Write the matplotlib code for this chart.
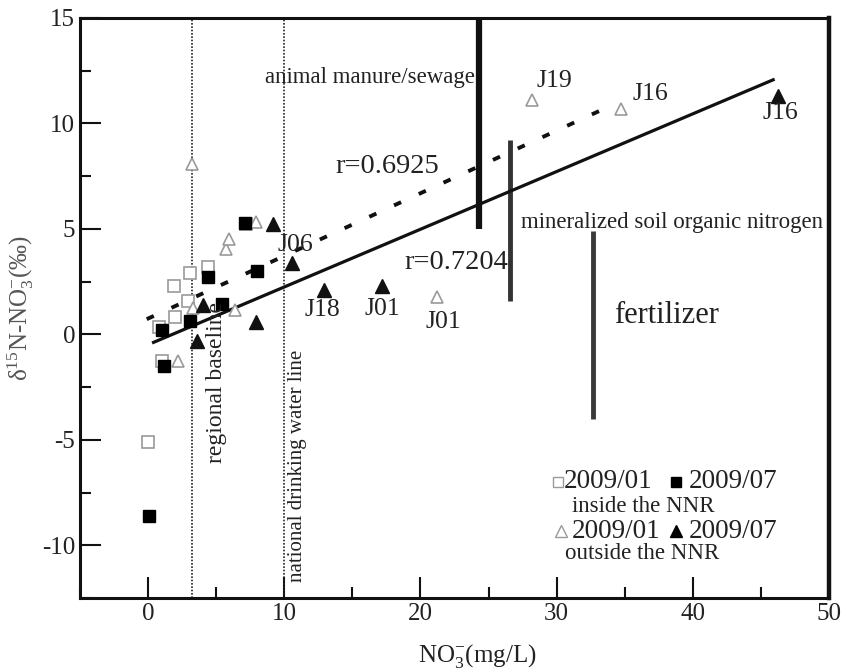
import matplotlib
matplotlib.use("Agg")
import matplotlib.pyplot as plt
from matplotlib.ticker import MultipleLocator

plt.rcParams["font.family"] = ["Liberation Serif", "DejaVu Serif"]
plt.rcParams["mathtext.fontset"] = "custom"
plt.rcParams["mathtext.rm"] = "Liberation Serif"
plt.rcParams["mathtext.it"] = "Liberation Serif:italic"
plt.rcParams["axes.unicode_minus"] = False

# 2009/01 inside the NNR (open squares)
in01_x = [0.0, 0.8, 1.0, 2.0, 1.9, 2.9, 3.1, 4.4, 7.2]
in01_y = [-5.1, 0.33, -1.24, 0.8, 2.3, 1.6, 2.9, 3.2, 5.25]
# 2009/07 inside the NNR (filled squares)
in07_x = [0.1, 1.0, 1.2, 3.1, 4.4, 5.4, 8.0, 7.1]
in07_y = [-8.6, 0.19, -1.48, 0.62, 2.7, 1.45, 3.0, 5.3]
# 2009/01 outside the NNR (open triangles)
out01_x = [2.2, 3.2, 3.3, 5.7, 5.96, 6.4, 7.9, 21.2, 28.2, 34.7]
out01_y = [-1.24, 8.06, 1.24, 4.06, 4.5, 1.15, 5.35, 1.77, 11.1, 10.7]
# 2009/07 outside the NNR (filled triangles)
out07_x = [3.6, 4.0, 7.9, 9.2, 10.6, 12.9, 17.2, 46.25]
out07_y = [-0.33, 1.38, 0.57, 5.25, 3.4, 2.1, 2.3, 11.3]

# trend lines (end points)
fit01_x = [-0.1, 33.5]
fit01_y = [0.72, 10.7]
fit07_x = [0.4, 45.9]
fit07_y = [-0.38, 12.07]

# reference lines
baseline_x = 3.2
drinking_x = 10.0

# source ranges (vertical bars)
src_x = [24.3, 26.6, 32.7]
src_lo = [5.0, 1.6, -4.0]
src_hi = [15.0, 9.2, 4.9]
src_col = ["#111111", "#333333", "#3a3a3a"]
src_lw = [4.5, 3.5, 3.5]

# sample labels
lab_txt = ["J19", "J16", "J16", "J06", "J18", "J01", "J01"]
lab_x = [29.85, 36.9, 46.4, 10.8, 12.8, 17.2, 21.7]
lab_y = [12.0, 11.4, 10.5, 4.25, 1.15, 1.2, 0.57]

fig = plt.figure(figsize=(8.46, 6.68), dpi=100)
ax = fig.add_axes([80 / 846, 70 / 668, 749 / 846, 580 / 668])

gray = "#9a9a9a"
ax.axvline(baseline_x, color="#222222", lw=1.2, ls=(0, (1, 1)))
ax.axvline(drinking_x, color="#222222", lw=1.2, ls=(0, (1, 1)))

for x, lo, hi, c, lw in zip(src_x, src_lo, src_hi, src_col, src_lw):
    ax.plot([x, x], [lo, hi], color=c, lw=lw, solid_capstyle="butt")

ax.plot(fit01_x, fit01_y, color="#111111", lw=2.8, ls=(0, (2.0, 5.0)))
ax.plot(fit07_x, fit07_y, color="#111111", lw=2.3)

ax.plot(in01_x, in01_y, ls="none", marker="s", ms=8, mfc="white", mec=gray, mew=1.2)
ax.plot(out01_x, out01_y, ls="none", marker="^", ms=9, mfc="white", mec=gray, mew=1.2)
ax.plot(in07_x, in07_y, ls="none", marker="s", ms=8.5, color="black")
ax.plot(out07_x, out07_y, ls="none", marker="^", ms=9.5, color="#111111")

txtc = "#222222"
for t, x, y in zip(lab_txt, lab_x, lab_y):
    ax.text(x, y, t, fontsize=18.5, ha="center", va="center", color=txtc)

ax.text(16.3, 12.17, "animal manure/sewage", fontsize=16.5, ha="center", va="center", color=txtc)
ax.text(38.5, 5.3, "mineralized soil organic nitrogen", fontsize=16.5, ha="center", va="center", color=txtc)
ax.text(38.1, 0.9, "fertilizer", fontsize=22, ha="center", va="center", color=txtc)
ax.text(17.6, 7.97, "r=0.6925", fontsize=20.5, ha="center", va="center", color=txtc)
ax.text(22.6, 3.39, "r=0.7204", fontsize=20.5, ha="center", va="center", color=txtc)
ax.text(5.0, -2.3, "regional baseline", fontsize=17, rotation=90, ha="center", va="center", color=txtc)
ax.text(11.0, -6.25, "national drinking water line", fontsize=15, rotation=90, ha="center", va="center", color=txtc)

# legend
ax.plot([30.1], [-7.0], ls="none", marker="s", ms=7, mfc="white", mec=gray, mew=1.0)
ax.text(30.5, -7.0, "2009/01", fontsize=19.5, va="center", color=txtc)
ax.plot([38.8], [-7.0], ls="none", marker="s", ms=7, color="black")
ax.text(39.7, -7.0, "2009/07", fontsize=19.5, va="center", color=txtc)
ax.text(31.1, -8.16, "inside the NNR", fontsize=16.5, va="center", color=txtc)
ax.plot([30.3], [-9.3], ls="none", marker="^", ms=8, mfc="white", mec=gray, mew=1.0)
ax.text(31.1, -9.35, "2009/01", fontsize=19.5, va="center", color=txtc)
ax.plot([38.8], [-9.3], ls="none", marker="^", ms=8, color="black")
ax.text(39.7, -9.35, "2009/07", fontsize=19.5, va="center", color=txtc)
ax.text(30.6, -10.4, "outside the NNR", fontsize=16.5, va="center", color=txtc)

ax.set_xlim(-5, 50)
ax.set_ylim(-12.5, 15)
ax.xaxis.set_major_locator(MultipleLocator(10))
ax.xaxis.set_minor_locator(MultipleLocator(5))
ax.yaxis.set_major_locator(MultipleLocator(5))
ax.yaxis.set_minor_locator(MultipleLocator(2.5))
ax.tick_params(which="both", direction="in", width=1.5, colors="#111111",
               labelsize=18, top=False, right=False)
ax.tick_params(which="major", length=15)
ax.tick_params(which="minor", length=8)
for s in ax.spines.values():
    s.set_linewidth(2.2)
    s.set_color("#111111")
ax.spines["right"].set_linewidth(3.2)
for lbl in ax.get_xticklabels() + ax.get_yticklabels():
    lbl.set_color(txtc)

ax.set_ylabel(r"δ$^{15}$N-NO$_3^{\mathrm{-}}$(‰)", fontsize=18, color="#555555", labelpad=4)
ax.set_xlabel(r"NO$_3^{\mathrm{-}}$(mg/L)", fontsize=18, color=txtc, labelpad=2)
ax.xaxis.set_label_coords(0.53, -0.075)

fig.savefig("out.png", dpi=100)
